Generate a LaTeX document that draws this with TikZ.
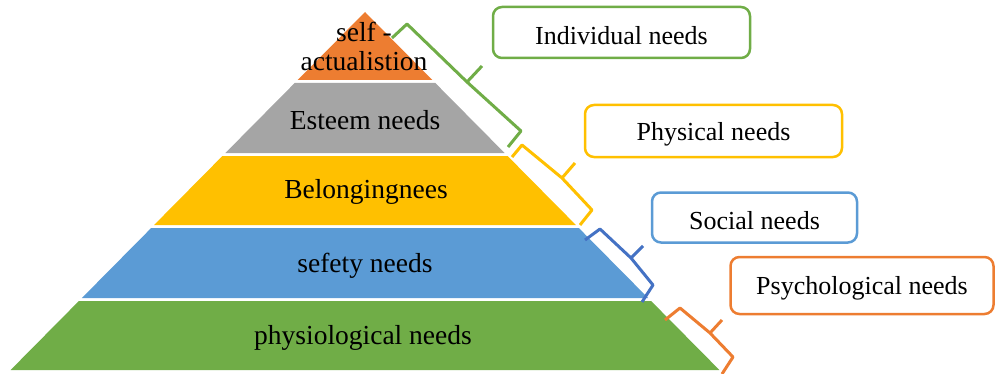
\documentclass[tikz,border=0pt]{standalone}
\usepackage{fontspec}
\setmainfont{Liberation Serif}
\definecolor{cOrange}{HTML}{ED7D31}
\definecolor{cGray}{HTML}{A5A5A5}
\definecolor{cYellow}{HTML}{FFC000}
\definecolor{cBlue}{HTML}{5B9BD5}
\definecolor{cDarkBlue}{HTML}{4472C4}
\definecolor{cGreen}{HTML}{70AD47}
\begin{document}
\begin{tikzpicture}[x=0.5pt,y=-0.5pt,
  layer/.style={fill=#1,draw=none},
  lvltext/.style={font=\fontsize{13.75}{14.5}\selectfont,text=black,align=center,inner sep=0pt},
  bracket/.style={draw=#1,line width=1.5pt,line join=round,line cap=butt},
  needbox/.style={draw=#1,line width=1.25pt,rounded corners=4.5pt,fill=white,inner sep=0pt},
  boxtext/.style={font=\fontsize{13}{15}\selectfont,text=black,inner sep=0pt}]
\useasboundingbox (0,0) rectangle (995,374);

% pyramid layers, separated by thin white gaps
\path[layer=cOrange] (365,12) -- (432.3,80) -- (297.7,80) -- cycle;
\path[layer=cGray]   (294.7,83) -- (435.3,83) -- (504.6,153) -- (225.4,153) -- cycle;
\path[layer=cYellow] (222.4,156) -- (507.6,156) -- (575.9,225) -- (154.1,225) -- cycle;
\path[layer=cBlue]   (151.2,228) -- (578.8,228) -- (648.1,298) -- (81.9,298) -- cycle;
\path[layer=cGreen]  (78.9,301) -- (651.1,301) -- (719.4,370) -- (10.6,370) -- cycle;

% level labels
\node[lvltext] (self) at (364,46) {self -\\actualistion};
\node[lvltext] (esteem) at (365,120) {Esteem needs};
\node[lvltext] (belong) at (366,192) {Belongingnees};
\node[lvltext] (safety) at (365,266) {sefety needs};
\node[lvltext] (physio) at (363,338) {physiological needs};

% brackets along the right slope
\draw[bracket=cGreen]  (392,38) -- (407,24) -- (467,82) -- (482,66) (467,82) -- (521,131) -- (508,147);
\draw[bracket=cYellow] (512,157) -- (522,145) -- (562,178) -- (575,163) (562,178) -- (592,210) -- (580,225);
\draw[bracket=cDarkBlue] (585,240) -- (600,229) -- (631,258) -- (643,246) (631,258) -- (653,285) -- (642,302);
\draw[bracket=cOrange] (665,320) -- (680,308) -- (710,333) -- (722,320) (710,333) -- (733,357) -- (722,374);

% category boxes
\node[needbox=cGreen,minimum width=128.5pt,minimum height=25.5pt] (indiv) at (621.5,32.5) {};
\node[needbox=cYellow,minimum width=128.5pt,minimum height=26pt] (phys) at (713.5,131) {};
\node[needbox=cBlue,minimum width=102.5pt,minimum height=25pt] (social) at (754.5,217.5) {};
\node[needbox=cOrange,minimum width=131.5pt,minimum height=28.5pt] (psych) at (862,285.5) {};
\node[boxtext] (indivT) at ([yshift=-1.75pt]indiv.center) {Individual needs};
\node[boxtext] (physT) at ([yshift=-1.75pt]phys.center) {Physical needs};
\node[boxtext] (socialT) at ([yshift=-1.5pt]social.center) {Social needs};
\node[boxtext] (psychT) at ([yshift=-1.5pt]psych.center) {Psychological needs};
\end{tikzpicture}
\end{document}
